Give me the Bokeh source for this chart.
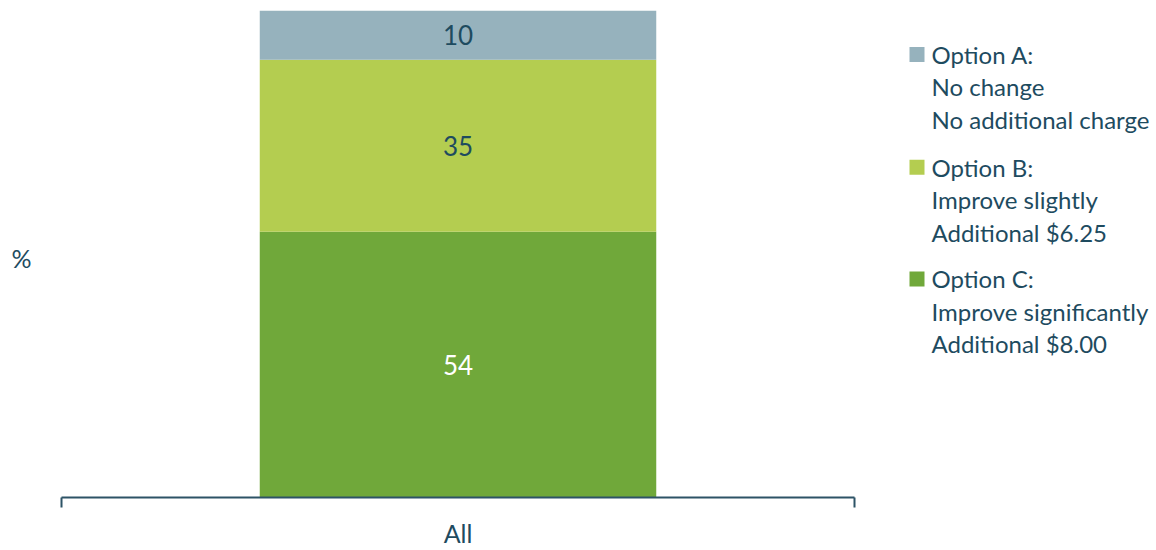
from bokeh.plotting import figure
from bokeh.models import Range1d, FixedTicker, Label, BoxAnnotation, ColumnDataSource
from bokeh.embed import file_html
from bokeh.resources import INLINE

categories = ["All"]
series = ["Option C", "Option B", "Option A"]
option_c = [54]
option_b = [35]
option_a = [10]
colors = ["#70a83a", "#b4cd50", "#96b2bd"]
label_colors = ["#ffffff", "#1e4b5f", "#1e4b5f"]
legend_lines = [
    ["Option A:", "No change", "No additional charge"],
    ["Option B:", "Improve slightly", "Additional $6.25"],
    ["Option C:", "Improve significantly", "Additional $8.00"],
]
legend_colors = ["#96b2bd", "#b4cd50", "#70a83a"]

TXT = "#1e4b5f"
FONT = "Lato"
W, H = 1156, 550
AX0, AX1 = 61, 854          # pixel extent of the category axis
FT, FB = 10, 498            # frame top / bottom pixels
FH = FB - FT
YMAX = 99
span = AX1 - AX0

p = figure(width=W, height=H, output_backend="svg", toolbar_location=None,
           x_range=Range1d(-AX0 / span, (W - AX0) / span), y_range=Range1d(0, YMAX),
           min_border_left=0, min_border_right=0,
           min_border_top=FT, min_border_bottom=H - FB)
p.outline_line_color = None
p.grid.visible = False
p.yaxis.visible = False

src = ColumnDataSource(dict(x=[0.5], **{"Option C": option_c, "Option B": option_b, "Option A": option_a}))
p.vbar_stack(series, x="x", width=0.5, source=src, color=colors, line_color=None)

# value labels
bottom = 0
for vals, col in zip([option_c, option_b, option_a], label_colors):
    v = vals[0]
    p.add_layout(Label(x=0.5, y=bottom + v / 2, text=str(v), text_align="center",
                       text_baseline="middle", text_color=col, text_font=FONT,
                       text_font_size="26px"))
    bottom += v

ax = p.xaxis[0]
ax.bounds = (0, 1)
ax.ticker = FixedTicker(ticks=[0.5], minor_ticks=[0, 1])
ax.major_label_overrides = {0.5: categories[0]}
ax.major_tick_line_color = None
ax.major_tick_out = 0
ax.major_tick_in = 0
ax.minor_tick_line_color = "#2d5366"
ax.minor_tick_line_width = 2
ax.minor_tick_out = 10
ax.minor_tick_in = 0
ax.axis_line_color = "#2d5366"
ax.axis_line_width = 2
ax.major_label_text_color = TXT
ax.major_label_text_font = FONT
ax.major_label_text_font_size = "25px"
ax.major_label_standoff = 10

def px_to_x(px):
    return (px - AX0) / span

def py_to_y(py):
    return (FB - py) / FH * YMAX

p.add_layout(Label(x=px_to_x(11), y=py_to_y(258), text="%", text_align="left",
                   text_baseline="middle", text_color=TXT, text_font=FONT,
                   text_font_size="25px"))

line_gap = 32.5
block_tops = [54, 167, 279]
for lines, col, y0 in zip(legend_lines, legend_colors, block_tops):
    p.add_layout(BoxAnnotation(left=px_to_x(909), right=px_to_x(924),
                               top=py_to_y(y0 - 7.5), bottom=py_to_y(y0 + 7.5),
                               fill_color=col, fill_alpha=1, line_color=None))
    for i, t in enumerate(lines):
        p.add_layout(Label(x=px_to_x(931), y=py_to_y(y0 + i * line_gap), text=t,
                           text_align="left", text_baseline="middle", text_color=TXT,
                           text_font=FONT, text_font_size="24px"))

open("out.html", "w").write(file_html(p, INLINE))
